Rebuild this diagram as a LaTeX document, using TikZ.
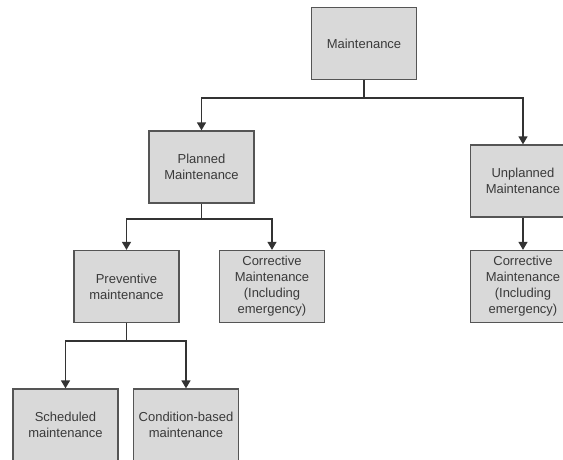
\documentclass[tikz,border=0pt]{standalone}
\usepackage{fontspec}
\setmainfont{Liberation Sans}
\usetikzlibrary{arrows.meta}
\definecolor{boxfill}{HTML}{D9D9D9}
\definecolor{boxline}{HTML}{555555}
\definecolor{txt}{HTML}{3A3A3A}
\definecolor{conn}{HTML}{333333}
\begin{document}
\begin{tikzpicture}[x=1pt,y=-1pt,
  box/.style={draw=boxline,fill=boxfill,line width=1.3pt,minimum width=105pt,minimum height=72pt,
    inner sep=0pt,align=center,text=txt,font=\fontsize{13}{16}\selectfont},
  link/.style={draw=conn,line width=1.4pt},
  arr/.style={link,-{Triangle[width=9pt,length=8pt]}}]
\useasboundingbox (0,0) rectangle (563,460);
\clip (0,0) rectangle (563,460);
\fill[white] (0,0) rectangle (563,460);
\node[box] (m) at (364,43.7) {Maintenance};
\node[box] (p) at (201.5,167) {Planned\\Maintenance};
\node[box] (u) at (523,181) {Unplanned\\Maintenance};
\node[box] (pv) at (126.5,286.5) {Preventive\\maintenance};
\node[box] (c1) at (272,286.5) {Corrective\\Maintenance\\(Including\\emergency)};
\node[box] (c2) at (523,286.5) {Corrective\\Maintenance\\(Including\\emergency)};
\node[box] (s) at (65.5,425) {Scheduled\\maintenance};
\node[box] (cb) at (186,425) {Condition-based\\maintenance};
\coordinate (j1) at (364,98);
\coordinate (j2) at (201.5,219);
\coordinate (j3) at (126.5,341);
\draw[link] (m.south) -- (j1);
\draw[arr] (j1) -| (p.north);
\draw[arr] (j1) -| (u.north);
\draw[link] (p.south) -- (j2);
\draw[arr] (j2) -| (pv.north);
\draw[arr] (j2) -| (c1.north);
\draw[arr] (u.south) -- (c2.north);
\draw[link] (pv.south) -- (j3);
\draw[arr] (j3) -| (s.north);
\draw[arr] (j3) -| (cb.north);
\end{tikzpicture}
\end{document}
